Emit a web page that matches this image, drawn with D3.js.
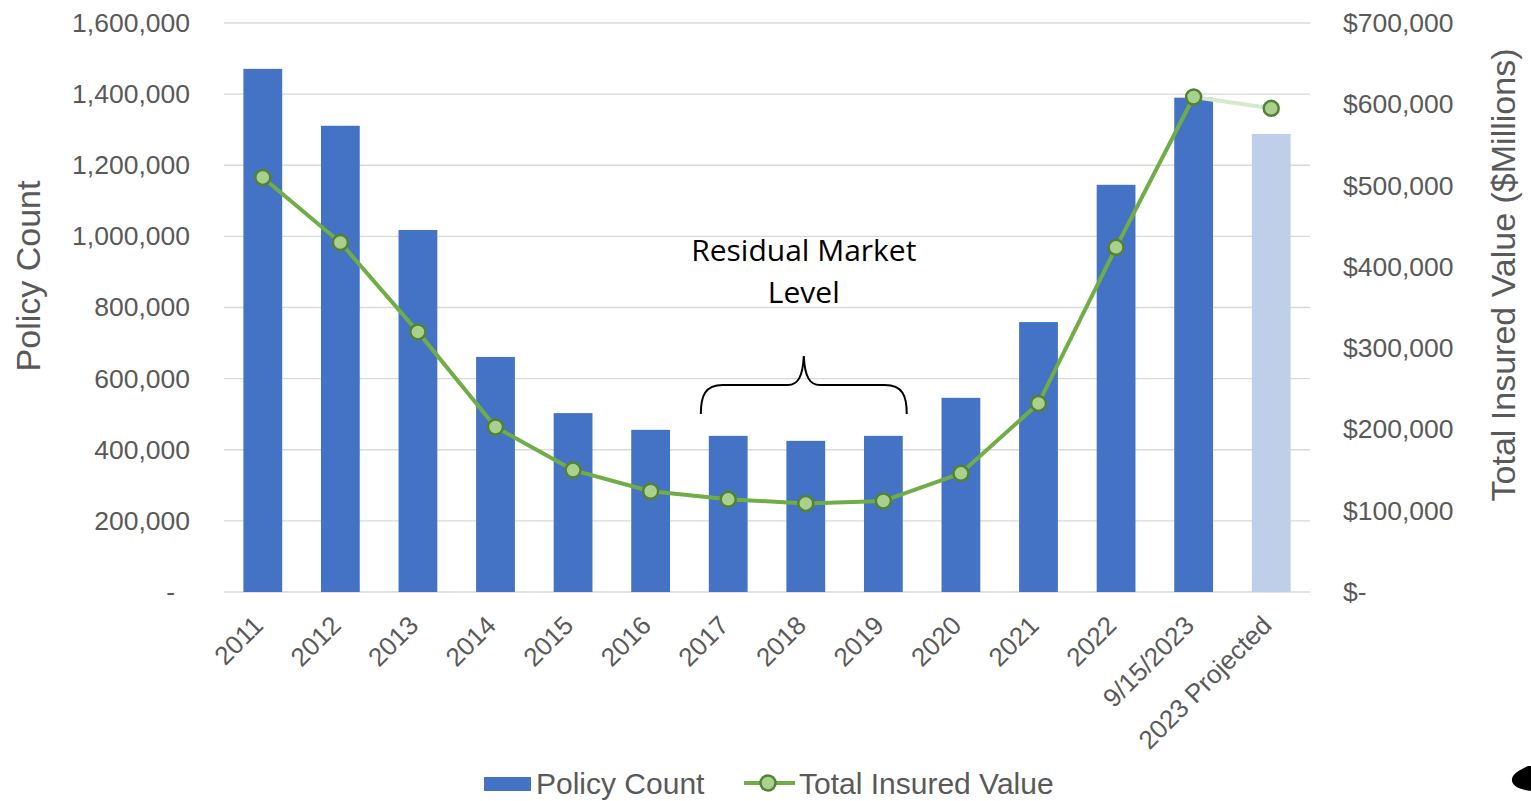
<!DOCTYPE html>
<html><head><meta charset="utf-8">
<script src="https://cdn.jsdelivr.net/npm/d3@7"></script>
<style>body{margin:0;background:#fff;overflow:hidden} svg{display:block}</style>
</head><body>
<svg id="c" width="1531" height="801"></svg>
<script>
// ---- data ----
const categories = ["2011","2012","2013","2014","2015","2016","2017","2018","2019","2020","2021","2022","9/15/2023","2023 Projected"];
const policyCount = [1471000,1311000,1018000,661000,503000,456000,439000,425000,439000,546000,759000,1145000,1390000,1288000];
const insuredValue = [510000,430000,320000,203000,150000,124000,114000,109000,112000,146000,232000,424000,609000,595000];
const leftTicks = [0,200000,400000,600000,800000,1000000,1200000,1400000,1600000];
const rightTicks = [0,100000,200000,300000,400000,500000,600000,700000];
const projectedIndex = 13;
const seriesNames = ["Policy Count","Total Insured Value"];
const axisTitles = ["Policy Count","Total Insured Value ($Millions)"];
const annotationLines = ["Residual Market","Level"];
const bracketFrom = "2017", bracketTo = "2019";

// ---- layout ----
const svg = d3.select("#c");
const L = 224, R = 1310, T = 23, B = 592;
const font = "'Liberation Sans', Arial, sans-serif";
const grey = "#595959";

const x = d3.scaleBand().domain(categories).range([L, R]).paddingInner(0.5).paddingOuter(0.25);
const yL = d3.scaleLinear().domain([0, 1600000]).range([B, T]);
const yR = d3.scaleLinear().domain([0, 700000]).range([B, T]);

// gridlines
svg.append("g").selectAll("line").data(leftTicks).join("line")
  .attr("x1", L).attr("x2", R)
  .attr("y1", d => yL(d)).attr("y2", d => yL(d))
  .attr("stroke", "#d9d9d9").attr("stroke-width", 1.3);

// left axis labels
const fmt = d3.format(",");
const gl = svg.append("g").attr("transform", `translate(190,0)`)
  .call(d3.axisLeft(yL).tickValues(leftTicks).tickSize(0).tickPadding(0)
    .tickFormat(d => d === 0 ? "-" : fmt(d)));
gl.select(".domain").remove();
gl.selectAll("text").attr("font-family", font).attr("font-size", 26.5).attr("fill", grey)
  .attr("x", d => d === 0 ? -15 : 0);

// right axis labels
const gr = svg.append("g").attr("transform", `translate(1343,0)`)
  .call(d3.axisRight(yR).tickValues(rightTicks).tickSize(0).tickPadding(0)
    .tickFormat(d => d === 0 ? "$-" : "$" + fmt(d)));
gr.select(".domain").remove();
gr.selectAll("text").attr("font-family", font).attr("font-size", 26.5).attr("fill", grey);

// bars
svg.append("g").selectAll("rect").data(categories).join("rect")
  .attr("x", d => x(d)).attr("width", x.bandwidth())
  .attr("y", (d, i) => yL(policyCount[i]))
  .attr("height", (d, i) => B - yL(policyCount[i]))
  .attr("fill", (d, i) => i === projectedIndex ? "#bfcfe9" : "#4472c4");

// x labels
svg.append("g").selectAll("text").data(categories).join("text")
  .attr("transform", d => `translate(${x(d) + x.bandwidth() / 2 + 2},627) rotate(-45)`)
  .attr("text-anchor", "end")
  .attr("font-family", font).attr("font-size", 26).attr("fill", grey)
  .text(d => d);

// line
const cx = d => x(d) + x.bandwidth() / 2;
const line = d3.line().x(d => cx(d[0])).y(d => yR(d[1]));
const pts = categories.map((c, i) => [c, insuredValue[i]]);
svg.append("path").datum(pts.slice(projectedIndex - 1))
  .attr("d", line).attr("fill", "none").attr("stroke", "#d7e9cb").attr("stroke-width", 4);
svg.append("path").datum(pts.slice(0, projectedIndex))
  .attr("d", line).attr("fill", "none").attr("stroke", "#70ad47").attr("stroke-width", 4)
  .attr("stroke-linejoin", "round");
svg.append("g").selectAll("circle").data(pts).join("circle")
  .attr("cx", d => cx(d[0])).attr("cy", d => yR(d[1])).attr("r", 7.5)
  .attr("fill", "#a9d18e").attr("stroke", "#548235").attr("stroke-width", 2.5);

// axis titles
svg.append("text").attr("transform", "translate(40,276) rotate(-90)")
  .attr("text-anchor", "middle").attr("font-family", font).attr("font-size", 34).attr("fill", grey)
  .text(axisTitles[0]);
svg.append("text").attr("transform", "translate(1515,275) rotate(-90)")
  .attr("text-anchor", "middle").attr("font-family", font).attr("font-size", 34).attr("fill", grey)
  .text(axisTitles[1]);

// annotation
const bx0 = x(bracketFrom) - 8, bx1 = x(bracketTo) + x.bandwidth() + 4;
const bm = (bx0 + bx1) / 2;
const ann = svg.append("text").attr("text-anchor", "middle")
  .attr("font-family", "'Open Sans', 'Noto Sans', sans-serif").attr("font-size", 30).attr("fill", "#000");
annotationLines.forEach((t, i) => ann.append("tspan").attr("x", bm).attr("y", 261 + i * 42).text(t));
const yb = 385;
svg.append("path")
  .attr("d", `M${bx0},414 C${bx0},396 ${bx0+4},${yb} ${bx0+22},${yb} L${bm-16},${yb} C${bm-6},${yb} ${bm-1},${yb-8} ${bm},356 C${bm+1},${yb-8} ${bm+6},${yb} ${bm+16},${yb} L${bx1-22},${yb} C${bx1-4},${yb} ${bx1},396 ${bx1},414`)
  .attr("fill", "none").attr("stroke", "#000").attr("stroke-width", 2);

// legend
const lg = svg.append("g");
lg.append("rect").attr("x", 484).attr("y", 777).attr("width", 47).attr("height", 14).attr("fill", "#4472c4");
lg.append("text").attr("x", 536).attr("y", 794).attr("font-family", font).attr("font-size", 30).attr("fill", grey).text(seriesNames[0]);
lg.append("line").attr("x1", 744).attr("x2", 795).attr("y1", 783).attr("y2", 783).attr("stroke", "#70ad47").attr("stroke-width", 4);
lg.append("circle").attr("cx", 768).attr("cy", 783).attr("r", 7.5).attr("fill", "#a9d18e").attr("stroke", "#548235").attr("stroke-width", 2.5);
lg.append("text").attr("x", 799).attr("y", 794).attr("font-family", font).attr("font-size", 30).attr("fill", grey).text(seriesNames[1]);

// corner fragment
svg.append("path").attr("d", "M1528,766 C1520,770 1511,774 1512,781 C1513,787 1522,790 1531,791 L1531,766 Z").attr("fill", "#000");
</script>
</body></html>
